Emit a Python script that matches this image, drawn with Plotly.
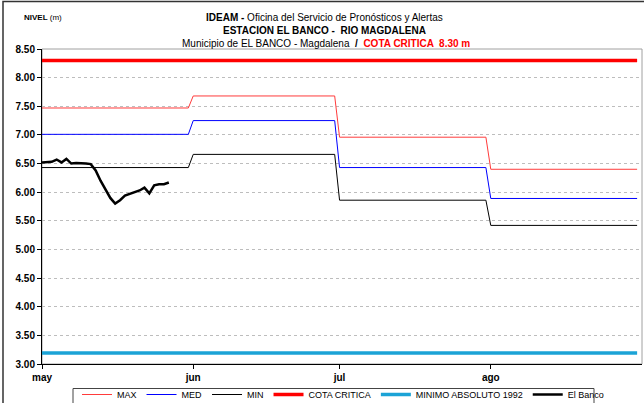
import pandas as pd
import plotly.graph_objects as go

# ---- data ----
months = ["2010-05-01", "2010-06-01", "2010-07-01", "2010-08-01"]
month_labels = ["may", "jun", "jul", "ago"]
month_days = [31, 30, 31, 31]
max_vals = [7.47, 7.68, 6.96, 6.40]
med_vals = [7.01, 7.25, 6.43, 5.89]
min_vals = [6.43, 6.66, 5.86, 5.42]
cota_critica = 8.30
minimo_absoluto = 3.19
banco_start = "2010-05-01"
banco_vals = [6.52, 6.52, 6.53, 6.57, 6.52, 6.58, 6.50, 6.51, 6.51, 6.50,
              6.49, 6.38, 6.20, 6.05, 5.90, 5.80, 5.86, 5.94, 5.97, 6.00,
              6.03, 6.08, 5.98, 6.12, 6.14, 6.14, 6.17]

# ---- build daily series ----
dates = pd.date_range(months[0], periods=sum(month_days), freq="D")
def expand(vals):
    out = []
    for v, n in zip(vals, month_days):
        out += [v] * n
    return out

banco_dates = pd.date_range(banco_start, periods=len(banco_vals), freq="D")

FONT = "Liberation Sans Narrow, Arial Narrow, Liberation Sans, Arial, sans-serif"

fig = go.Figure()
fig.add_trace(go.Scatter(x=dates, y=expand(max_vals), mode="lines", name="MAX",
                         line=dict(color="#FF3B3B", width=1)))
fig.add_trace(go.Scatter(x=dates, y=expand(med_vals), mode="lines", name="MED",
                         line=dict(color="#0000FF", width=1)))
fig.add_trace(go.Scatter(x=dates, y=expand(min_vals), mode="lines", name="MIN",
                         line=dict(color="#000000", width=1)))
fig.add_trace(go.Scatter(x=dates, y=[cota_critica] * len(dates), mode="lines",
                         name="COTA CRITICA", line=dict(color="#FF0000", width=3.5)))
fig.add_trace(go.Scatter(x=dates, y=[minimo_absoluto] * len(dates), mode="lines",
                         name="MINIMO ABSOLUTO 1992", line=dict(color="#1BA3D6", width=3.5)))
fig.add_trace(go.Scatter(x=banco_dates, y=banco_vals, mode="lines", name="El Banco",
                         line=dict(color="#000000", width=2.5)))

W, H = 644, 403
L, R, T, B = 42, 2, 49, 39
pw, ph = W - L - R, H - T - B

def px_x(p):
    return (p - L) / pw

def px_y(p):
    return (H - B - p) / ph

fig.update_layout(
    width=W, height=H,
    margin=dict(l=L, r=R, t=T, b=B, autoexpand=False),
    paper_bgcolor="white", plot_bgcolor="white",
    font=dict(family=FONT, size=10, color="black"),
    showlegend=True,
    legend=dict(orientation="h", x=px_x(77), y=px_y(380), xanchor="left", yanchor="top",
                borderwidth=0, bgcolor="rgba(0,0,0,0)",
                font=dict(size=9, family=FONT), itemwidth=30, tracegroupgap=0,
                entrywidth=0),
    xaxis=dict(type="date", range=["2010-05-01", "2010-09-01"],
               tickvals=months, ticktext=["<b>%s</b>" % m for m in month_labels],
               ticks="outside", ticklen=4, tickcolor="black",
               showline=True, linecolor="black", linewidth=1,
               showgrid=False, zeroline=False,
               tickfont=dict(size=10, family=FONT)),
    yaxis=dict(range=[3.0, 8.5], dtick=0.5, tickformat=".2f",
               ticks="outside", ticklen=4, tickcolor="black",
               showline=True, linecolor="black", linewidth=1,
               showgrid=True, gridcolor="#BDBDBD", griddash="dot", gridwidth=1,
               zeroline=False, tickfont=dict(size=10, family=FONT),
               tickprefix="<b>", ticksuffix="</b>"),
    shapes=[
        dict(type="rect", xref="paper", yref="paper", x0=0, x1=1, y0=0, y1=1,
             line=dict(color="#A0A0A0", width=1), layer="below"),
        dict(type="rect", xref="paper", yref="paper", x0=px_x(3), x1=px_x(700),
             y0=px_y(420), y1=px_y(1.5), line=dict(color="#333333", width=1.5),
             layer="below"),
        dict(type="rect", xref="paper", yref="paper", x0=px_x(73), x1=px_x(594),
             y0=px_y(415), y1=px_y(388.5), line=dict(color="#444444", width=1),
             layer="below"),
    ],
    annotations=[
        dict(xref="paper", yref="paper", x=px_x(22), y=px_y(18), xanchor="left",
             yanchor="middle", showarrow=False,
             text="<b>NIVEL</b> (m)", font=dict(size=8, family=FONT)),
        dict(xref="paper", yref="paper", x=px_x(324), y=px_y(18), xanchor="center",
             yanchor="middle", showarrow=False,
             text="<b>IDEAM - </b>Oficina del Servicio de Pronósticos y Alertas",
             font=dict(size=10, family=FONT)),
        dict(xref="paper", yref="paper", x=px_x(324), y=px_y(30.5), xanchor="center",
             yanchor="middle", showarrow=False,
             text="<b>ESTACION EL BANCO -  RIO MAGDALENA</b>",
             font=dict(size=10, family=FONT)),
        dict(xref="paper", yref="paper", x=px_x(326), y=px_y(43), xanchor="center",
             yanchor="middle", showarrow=False,
             text="Municipio de EL BANCO - Magdalena  <b>/</b>  "
                  "<span style='color:#FF0000'><b>COTA CRITICA  8.30 m</b></span>",
             font=dict(size=10, family=FONT)),
    ],
)

fig.write_html("out.html", post_script="document.body.style.margin='0';",
               config={"displayModeBar": False})
